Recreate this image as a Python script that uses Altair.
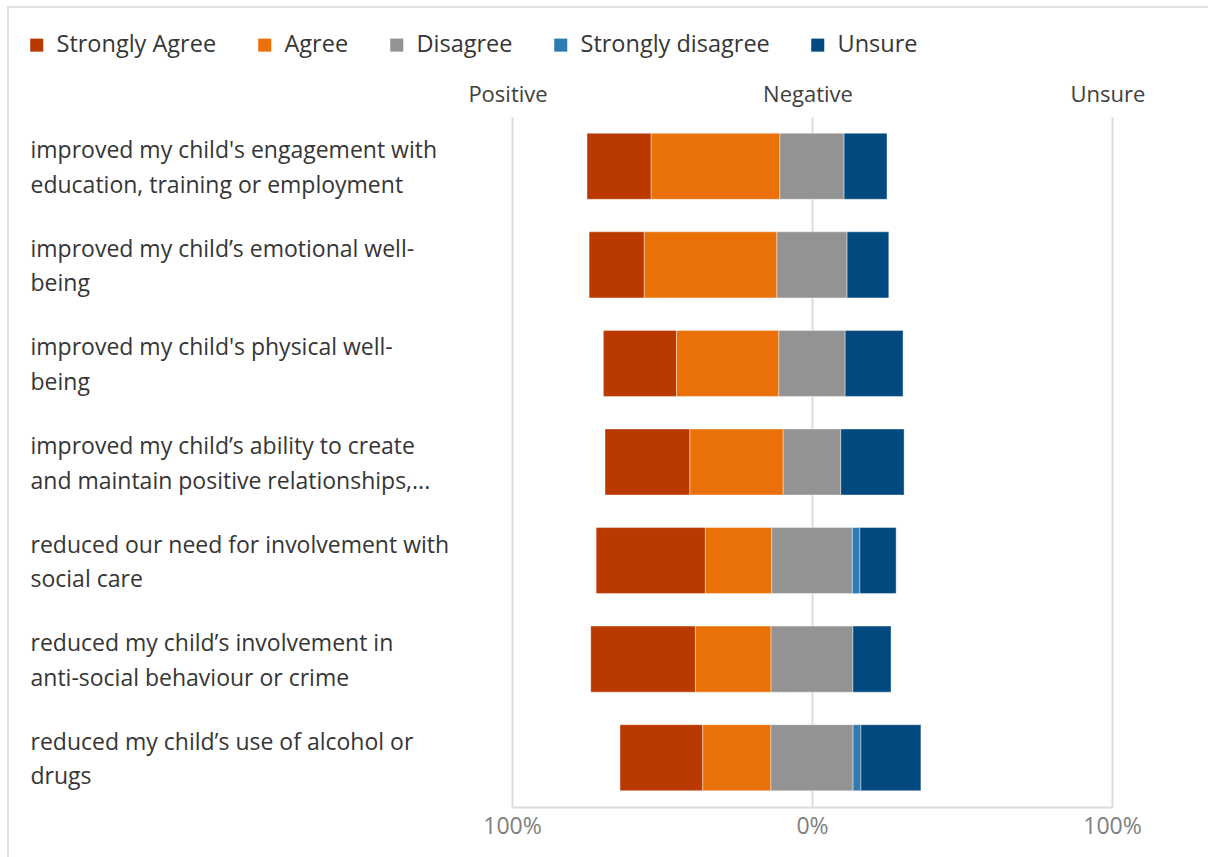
import altair as alt
import pandas as pd

categories = [
    "improved my child's engagement with|education, training or employment",
    "improved my child\u2019s emotional well-|being",
    "improved my child's physical well-|being",
    "improved my child\u2019s ability to create|and maintain positive relationships,...",
    "reduced our need for involvement with|social care",
    "reduced my child\u2019s involvement in|anti-social behaviour or crime",
    "reduced my child\u2019s use of alcohol or|drugs",
]
series = ["Strongly Agree", "Agree", "Disagree", "Strongly disagree", "Unsure"]
colors = ["#BA3900", "#EA7008", "#939393", "#2E7BB4", "#024980"]

strongly_agree = [21.4, 18.4, 24.4, 28.3, 36.4, 34.9, 27.6]
agree = [42.9, 44.2, 34.1, 31.1, 22.1, 25.2, 22.7]
disagree = [21.4, 23.4, 22.1, 19.2, 26.9, 27.3, 27.4]
strongly_disagree = [0.0, 0.0, 0.0, 0.0, 2.5, 0.0, 2.6]
unsure = [14.3, 13.9, 19.3, 21.1, 12.1, 12.7, 20.0]

headers = ["Positive", "Negative", "Unsure"]
header_at = [-100, 0, 100]

values = [strongly_agree, agree, disagree, strongly_disagree, unsure]
rows = []
for i, cat in enumerate(categories):
    # bars are centred on the middle of the "Disagree" segment
    start = -(strongly_agree[i] + agree[i] + disagree[i] / 2)
    for s, name in enumerate(series):
        v = values[s][i]
        rows.append({"category": cat, "series": name, "order": s,
                     "x0": start, "x1": start + v, "value": v})
        start += v
df = pd.DataFrame(rows)
df = df[df["value"] > 0]

hdf = pd.DataFrame({"label": headers, "pos": header_at})

FONT = "Open Sans"

xscale = alt.Scale(domain=[-100, 100], nice=False, zero=False)

bars = alt.Chart(df).mark_bar(stroke="white", strokeWidth=0.8, strokeOpacity=0.5).encode(
    y=alt.Y("category:N", sort=categories,
            scale=alt.Scale(paddingInner=0.33, paddingOuter=0.165),
            axis=alt.Axis(title=None, domain=False, ticks=False, grid=False,
                          labelAlign="left", labelPadding=482, labelLimit=0,
                          labelFontSize=23, labelLineHeight=34.5, labelColor="#363636",
                          labelFont=FONT, labelBaseline="middle", labelOffset=-15,
                          labelExpr="split(datum.label, '|')")),
    x=alt.X("x0:Q", scale=xscale,
            axis=alt.Axis(title=None, values=[-100, 0, 100], grid=True,
                          gridColor="#dcdcdc", gridWidth=2, domain=True,
                          domainColor="#dcdcdc", domainWidth=2, ticks=False,
                          labelPadding=8, labelFontSize=23, labelColor="#808080",
                          labelFont=FONT, labelFlush=False,
                          labelExpr="abs(datum.value) + '%'")),
    x2="x1:Q",
    color=alt.Color("series:N", sort=series,
                    scale=alt.Scale(domain=series, range=colors),
                    legend=alt.Legend(title=None, orient="none", direction="horizontal",
                                      legendX=-487, legendY=-84,
                                      symbolType="square", symbolSize=170,
                                      symbolStrokeWidth=0, labelFontSize=23.5,
                                      labelFont=FONT, labelColor="#363636",
                                      labelOffset=8, columnPadding=36,
                                      labelLimit=0)),
    order=alt.Order("order:Q"),
)

head = alt.Chart(hdf).mark_text(fontSize=22, font=FONT, color="#404040", dx=-4,
                                baseline="middle").encode(
    x=alt.X("pos:Q", scale=xscale),
    y=alt.value(-22),
    text="label:N",
)

top_border = alt.Chart(hdf).mark_rule(color="#e0e0e0", strokeWidth=2).encode(
    x=alt.value(-505), x2=alt.value(700), y=alt.value(-110)
)
left_border = alt.Chart(hdf).mark_rule(color="#e0e0e0", strokeWidth=2).encode(
    x=alt.value(-504), y=alt.value(-110), y2=alt.value(800)
)

chart = alt.layer(top_border, left_border, bars, head).properties(
    width=600, height=690,
    autosize=alt.AutoSizeParams(type="none"),
    padding={"left": 512, "top": 117, "right": 96, "bottom": 50},
).configure_view(stroke=None)

chart.save("out.html", embed_options={"renderer": "svg", "actions": False})
